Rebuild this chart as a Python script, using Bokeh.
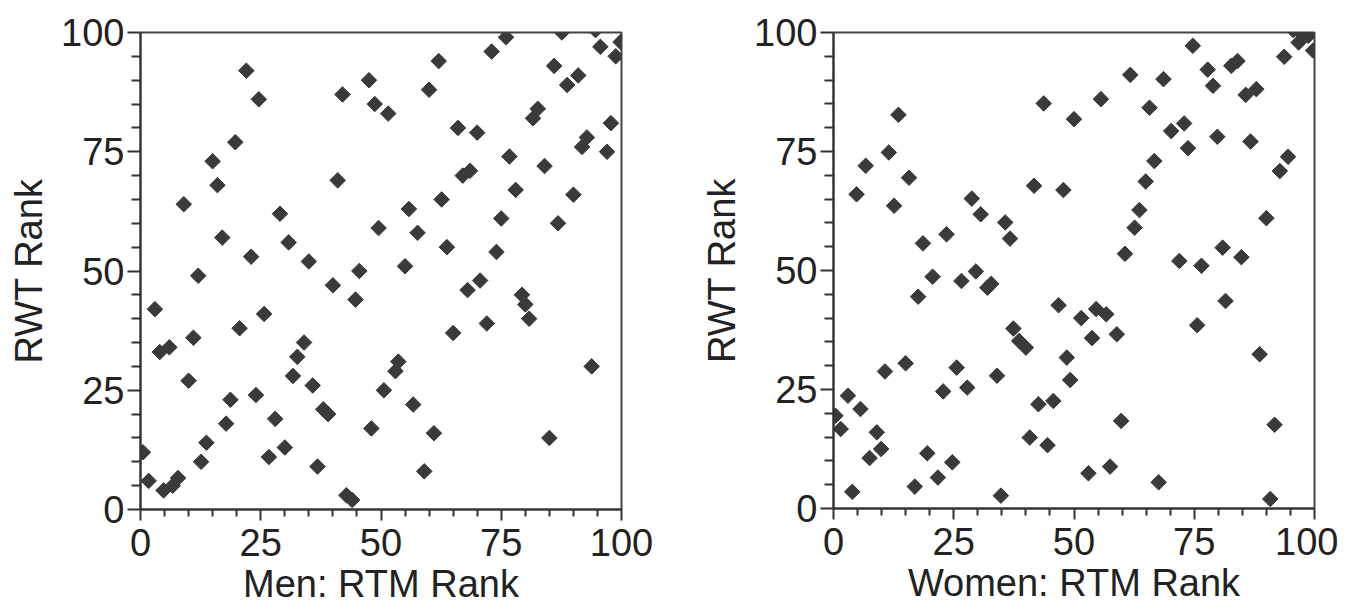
import math
from bokeh.plotting import figure
from bokeh.layouts import row
from bokeh.models import FixedTicker, Range1d
from bokeh.embed import file_html
from bokeh.resources import INLINE

# Men: RTM rank vs RWT rank
men_x = [0.5, 1.7, 3, 4, 6, 4.8, 6.7, 7.8, 9, 10, 11, 12, 12.6, 13.7, 15, 16, 17, 17.8, 18.7, 19.7,
         20.6, 22, 23, 24, 24.6, 25.7, 26.7, 28, 29, 30, 30.8, 31.7, 32.6, 34, 35, 35.8, 36.8, 38, 39, 40,
         41, 42, 42.8, 44, 44.7, 45.5, 47.5, 48, 48.7, 49.5, 50.6, 51.5, 53, 53.6, 55, 55.8, 56.7, 57.6, 59, 60,
         61, 62, 62.6, 63.7, 65, 66, 67, 68.5, 68, 70, 70.6, 72, 73, 74, 75, 76, 76.7, 78, 79.3, 80,
         80.8, 81.6, 82.6, 84, 85, 86, 86.8, 87.6, 88.7, 90, 91, 91.8, 92.8, 93.8, 94.6, 95.6, 97, 97.8, 98.8, 99.8]
men_y = [12, 6, 42, 33, 34, 4, 5, 6.6, 64, 27, 36, 49, 10, 14, 73, 68, 57, 18, 23, 77,
         38, 92, 53, 24, 86, 41, 11, 19, 62, 13, 56, 28, 32, 35, 52, 26, 9, 21, 20, 47,
         69, 87, 3, 2, 44, 50, 90, 17, 85, 59, 25, 83, 29, 31, 51, 63, 22, 58, 8, 88,
         16, 94, 65, 55, 37, 80, 70, 71, 46, 79, 48, 39, 96, 54, 61, 99, 74, 67, 45, 43,
         40, 82, 84, 72, 15, 93, 60, 100, 89, 66, 91, 76, 78, 30, 100.5, 97, 75, 81, 95, 98]

# Women: RTM rank vs RWT rank
women_x = [0.4, 1.5, 3, 3.9, 4.8, 5.6, 6.7, 7.5, 9, 9.9, 10.7, 11.5, 12.6, 13.5, 15, 15.7, 16.9, 17.6, 18.6, 19.5,
           20.6, 21.7, 22.8, 23.5, 24.7, 25.6, 26.6, 27.8, 28.75, 29.6, 30.6, 32, 32.8, 34, 34.8, 35.7, 36.7, 37.4, 38.6, 40,
           40.8, 41.7, 42.6, 43.7, 44.5, 45.7, 46.8, 47.8, 48.5, 49.2, 50, 51.5, 53, 53.75, 54.6, 55.6, 56.7, 57.5, 58.9, 59.8,
           60.6, 61.7, 62.6, 63.6, 64.9, 65.7, 66.7, 67.6, 68.6, 70.2, 71.9, 72.9, 73.7, 74.7, 75.6, 76.5, 77.8, 78.9, 79.8, 80.9,
           81.5, 82.7, 84, 84.8, 85.7, 86.7, 87.9, 88.6, 90, 90.8, 91.7, 92.8, 93.7, 94.5, 95.6, 96.7, 97.3, 98.7, 99.7]
women_y = [19.5, 16.7, 23.7, 3.5, 66, 20.9, 72, 10.6, 16, 12.5, 28.8, 74.8, 63.6, 82.7, 30.5, 69.5, 4.6, 44.5, 55.7, 11.6,
           48.7, 6.5, 24.6, 57.6, 9.7, 29.6, 47.8, 25.4, 65.1, 49.8, 61.8, 46.4, 47.2, 27.9, 2.7, 60.1, 56.7, 37.8, 35.2, 33.8,
           14.9, 67.8, 21.9, 85.1, 13.3, 22.6, 42.7, 66.9, 31.7, 27, 81.8, 40, 7.4, 35.8, 41.9, 86, 40.8, 8.8, 36.6, 18.4,
           53.5, 91.1, 59, 62.7, 68.7, 84.2, 73, 5.5, 90.2, 79.3, 52, 80.9, 75.7, 97.2, 38.5, 51, 92.2, 88.8, 78.1, 54.8,
           43.6, 93, 94, 52.8, 86.9, 77.1, 88.1, 32.4, 61, 2, 17.6, 70.9, 94.9, 73.9, 100.5, 97.9, 99.8, 99.3, 96.2]

major_ticks = [0, 25, 50, 75, 100]
minor_ticks = [v for v in range(0, 101, 5) if v % 25 != 0]

FONT = "Liberation Sans"
INK = "#222222"
MARK = "#3a3a3a"


def panel(xs, ys, xlabel, left, top, fh, bottom, right):
    p = figure(frame_width=481, frame_height=fh, output_backend="svg", toolbar_location=None,
               x_range=Range1d(0, 100), y_range=Range1d(0, 100),
               min_border_left=left, min_border_right=right, min_border_top=top, min_border_bottom=bottom)
    p.grid.visible = False
    p.background_fill_color = "white"
    p.outline_line_color = "#444444"
    p.outline_line_width = 2
    p.scatter(xs, ys, marker="square", size=11, angle=math.pi / 4,
              fill_color=MARK, line_color=MARK, line_width=1)
    for ax in (p.xaxis[0], p.yaxis[0]):
        ax.ticker = FixedTicker(ticks=major_ticks, minor_ticks=minor_ticks)
        ax.axis_line_color = "#333333"
        ax.axis_line_width = 2
        ax.major_tick_line_color = "#333333"
        ax.major_tick_line_width = 2
        ax.minor_tick_line_color = "#333333"
        ax.minor_tick_line_width = 2
        ax.major_tick_in = 0
        ax.minor_tick_in = 0
        ax.major_label_text_font = FONT
        ax.major_label_text_font_size = "38px"
        ax.major_label_text_color = INK
        ax.axis_label_text_font = FONT
        ax.axis_label_text_font_size = "38px"
        ax.axis_label_text_font_style = "normal"
        ax.axis_label_text_color = INK
    p.xaxis.major_tick_out = 11
    p.xaxis.minor_tick_out = 7
    p.xaxis.major_label_standoff = 8
    p.xaxis.axis_label_standoff = 4
    p.xaxis.axis_label = xlabel
    p.yaxis.major_tick_out = 13
    p.yaxis.minor_tick_out = 9
    p.yaxis.major_label_standoff = 3
    p.yaxis.axis_label_standoff = 8
    p.yaxis.axis_label = "RWT Rank"
    return p


p1 = panel(men_x, men_y, "Men: RTM Rank", 140, 30, 477, 80, 76)
p2 = panel(women_x, women_y, "Women: RTM Rank", 136, 32, 476, 80, 24)
layout = row(p1, p2, spacing=0)

open("out.html", "w").write(file_html(layout, INLINE))
